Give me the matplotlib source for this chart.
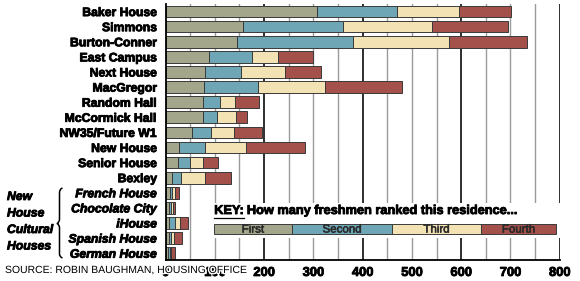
import matplotlib.pyplot as plt
import matplotlib.patheffects as pe
from matplotlib.patches import Rectangle
from matplotlib.path import Path
from matplotlib.patches import PathPatch

# freshmen dorm rankings
dorms = ["Baker House", "Simmons", "Burton-Conner", "East Campus", "Next House",
         "MacGregor", "Random Hall", "McCormick Hall", "NW35/Future W1",
         "New House", "Senior House", "Bexley",
         "French House", "Chocolate City", "iHouse", "Spanish House", "German House"]
first = [307, 158, 144, 89, 80, 78, 76, 75, 53, 27, 26, 14, 9, 7, 7, 7, 5]
second = [162, 203, 236, 87, 73, 110, 35, 29, 40, 54, 23, 18, 3, 4, 13, 3, 3]
third = [127, 180, 195, 53, 89, 135, 30, 39, 45, 82, 26, 47, 7, 4, 10, 7, 2]
fourth = [105, 155, 158, 70, 74, 157, 48, 22, 58, 121, 32, 54, 9, 4, 15, 17, 10]
series = [first, second, third, fourth]
rank_names = ["First", "Second", "Third", "Fourth"]
colors = ["#a3a68a", "#6ea6b6", "#f2e2b4", "#a3514a"]
xticks = [0, 100, 200, 300, 400, 500, 600, 700, 800]
n_cultural = 5

plt.rcParams['font.family'] = ['Liberation Sans', 'DejaVu Sans']
heavy = [pe.withStroke(linewidth=0.6, foreground="black")]

fig = plt.figure(figsize=(5.8, 2.81), dpi=100)
ax = fig.add_axes([0.2855, 0.0747, 0.6795, 0.911])

# grid every 50, darker on the 200s
for g in range(50, 801, 50):
    if g % 200 == 0:
        ax.axvline(g, color="#1e1e1e", lw=1.3, zorder=0)
    else:
        ax.axvline(g, color="#9a9a9a", lw=1.0, zorder=0)

ypos = list(range(len(dorms)))
left = [0] * len(dorms)
for vals, c in zip(series, colors):
    ax.barh(ypos, vals, left=left, height=0.77, color=c,
            edgecolor="#3a3a3a", linewidth=0.7, zorder=2)
    left = [l + v for l, v in zip(left, vals)]

ax.set_xlim(0, 800)
ax.set_ylim(16.45, -0.5)
ax.set_xticks(xticks)
ax.set_xticklabels([str(t) for t in xticks], fontsize=9.3, fontweight="bold")
ax.set_yticks(ypos)
ax.set_yticklabels(dorms, fontsize=8.8, fontweight="bold")
for lab in ax.get_yticklabels()[-n_cultural:]:
    lab.set_fontstyle("italic")
for lab in ax.get_yticklabels() + ax.get_xticklabels():
    lab.set_path_effects(heavy)
ax.tick_params(axis="both", length=0)
ax.tick_params(axis="y", pad=6)
ax.tick_params(axis="x", pad=5)
for s in ["top", "right"]:
    ax.spines[s].set_visible(False)
for s in ["left", "bottom"]:
    ax.spines[s].set_linewidth(1.3)
    ax.spines[s].set_color("black")

# key box
ax.add_patch(Rectangle((0.118, 0.086), 0.89, 0.135, transform=ax.transAxes,
                       facecolor="white", edgecolor="none", zorder=3, clip_on=False))
bounds = [0.1234, 0.320, 0.5754, 0.7997, 0.9916]
for i, (name, c) in enumerate(zip(rank_names, colors)):
    x0, x1 = bounds[i], bounds[i + 1]
    ax.add_patch(Rectangle((x0, 0.1004), x1 - x0, 0.0402, transform=ax.transAxes,
                           facecolor=c, edgecolor="#3a3a3a", lw=0.7, zorder=4, clip_on=False))
    ax.text((x0 + x1) / 2, 0.119, name, transform=ax.transAxes, ha="center", va="center",
            fontsize=8.3, color="#2a2a2a", zorder=5,
            path_effects=[pe.withStroke(linewidth=0.4, foreground="#2a2a2a")])

key_t = ax.text(0.1234, 0.1914, "KEY:", transform=ax.transAxes, ha="left", va="center",
                fontsize=9.2, fontweight="bold", zorder=5, path_effects=heavy)
fig.canvas.draw()
r = fig.canvas.get_renderer()
bb = key_t.get_window_extent(r).transformed(ax.transAxes.inverted())
ax.text(bb.x1 + 0.008, 0.1914, "How many freshmen ranked this residence...",
        transform=ax.transAxes, ha="left", va="center", fontsize=9.2, fontweight="bold",
        zorder=5, path_effects=heavy)
ax.plot([bb.x0, bb.x1], [bb.y0 - 0.002, bb.y0 - 0.002], transform=ax.transAxes,
        color="black", lw=0.9, zorder=5, clip_on=False)

# left-side group label and brace
H = 281.0
for i, line in enumerate(["New", "House", "Cultural", "Houses"]):
    fig.text(7 / 580, 1 - (197 + 16.5 * i) / H, line, ha="left", va="center",
             fontsize=8.8, fontweight="bold", fontstyle="italic", path_effects=heavy)

def fp(x, y):
    return (x / 580, 1 - y / H)

verts = [fp(62.5, 188), fp(59.5, 189), fp(59.5, 193), fp(59.5, 196),
         fp(59.5, 219), fp(59.5, 222.5), fp(57, 223.5),
         fp(59.5, 224.5), fp(59.5, 228),
         fp(59.5, 251), fp(59.5, 254), fp(59.5, 257), fp(62.5, 258)]
codes = [Path.MOVETO, Path.CURVE3, Path.CURVE3, Path.LINETO,
         Path.LINETO, Path.CURVE3, Path.CURVE3,
         Path.CURVE3, Path.CURVE3,
         Path.LINETO, Path.LINETO, Path.CURVE3, Path.CURVE3]
fig.add_artist(PathPatch(Path(verts, codes), transform=fig.transFigure,
                         facecolor="none", edgecolor="black", lw=1.1))

fig.text(5 / 580, 1 - 270 / H, "SOURCE: ROBIN BAUGHMAN, HOUSING OFFICE",
         ha="left", va="center", fontsize=7.5, color="black", zorder=10,
         path_effects=[pe.withStroke(linewidth=2, foreground="white")])

fig.savefig("out.png", dpi=100)
